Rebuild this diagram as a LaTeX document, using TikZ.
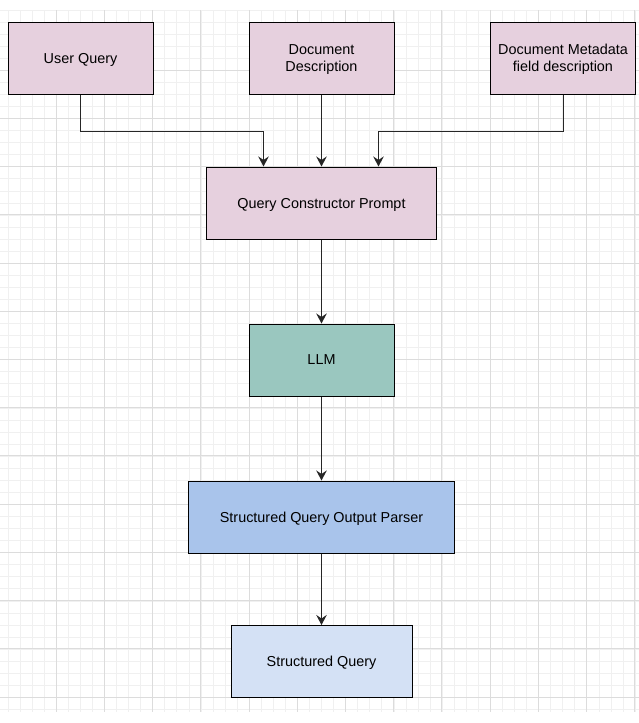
\documentclass[tikz,border=0pt]{standalone}
\usepackage{fontspec}
\setmainfont{Liberation Sans}
\usepackage{xcolor}
\usepackage{tikz}
\usetikzlibrary{arrows.meta, positioning}

\definecolor{promptpink}{HTML}{E6D0DE}
\definecolor{llmgreen}{HTML}{9AC7BF}
\definecolor{parserblue}{HTML}{A9C4EB}
\definecolor{outblue}{HTML}{D4E1F5}
\definecolor{gridminor}{HTML}{F0F0F0}
\definecolor{gridmajor}{HTML}{DCDCDC}

\begin{document}
\begin{tikzpicture}[
    x=1pt, y=-1pt,
    box/.style={draw, line width=1pt, inner sep=2pt, align=center, text depth=0pt,
        minimum width=145pt, minimum height=72pt, font=\fontsize{14.4}{17.3}\selectfont},
    arr/.style={-{Stealth[length=10pt, width=10.5pt, inset=3.5pt]}, line width=1pt, draw=black!85},
    >=Stealth
]
\useasboundingbox (0,0) rectangle (639,723);

% Grid
\foreach \k in {0,...,52}
    \draw[gridminor, line width=0.8pt] (8+12.06*\k, 10) -- (8+12.06*\k, 712);
\foreach \k in {0,...,58}
    \draw[gridminor, line width=0.8pt] (0, 10+12.06*\k) -- (639, 10+12.06*\k);
\foreach \k in {0,...,12}
    \draw[gridmajor, line width=0.8pt] (56+48.23*\k, 10) -- (56+48.23*\k, 712);
\foreach \k in {0,...,13}
    \draw[gridmajor, line width=0.8pt] (0, 70+48.23*\k) -- (639, 70+48.23*\k);

% Inputs
\node[box, fill=promptpink] (uq) at (80.5, 58) {User Query};
\node[box, fill=promptpink] (doc) at (321.5, 58) {Document\\Description};
\node[box, fill=promptpink] (meta) at (563, 58) {Document Metadata\\field description};

% Prompt
\node[box, fill=promptpink, minimum width=230pt] (qcp) at (321.5, 203) {Query Constructor Prompt};
\draw[arr] (uq.south) -- ++(0,37) -| ([xshift=-58pt]qcp.north);
\draw[arr] (doc) -- (doc |- qcp.north);
\draw[arr] (meta.south) -- ++(0,37) -| ([xshift=57pt]qcp.north);

% LLM and parsing
\node[box, fill=llmgreen] (llm) at (321.5, 360) {LLM};
\node[box, fill=parserblue, minimum width=266pt] (parser) at (321.5, 517) {Structured Query Output Parser};
\node[box, fill=outblue, minimum width=181pt] (sq) at (321.5, 661.5) {Structured Query};

\draw[arr] (qcp) -- (llm);
\draw[arr] (llm) -- (parser);
\draw[arr] (parser) -- (sq);

\end{tikzpicture}
\end{document}
